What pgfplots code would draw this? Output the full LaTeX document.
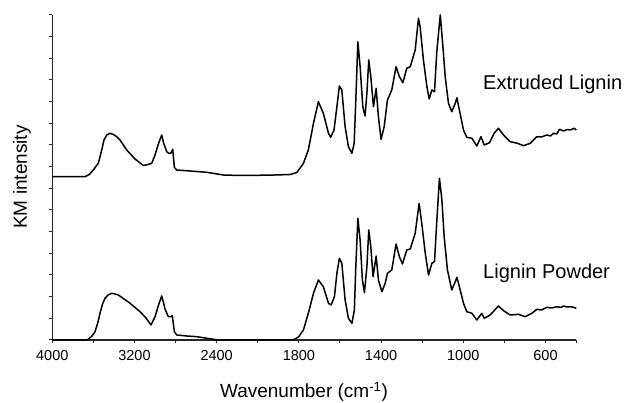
\documentclass[border=0pt]{standalone}
\usepackage{fontspec}
\setmainfont{Liberation Sans}
\usepackage{pgfplots}
\pgfplotsset{compat=1.18}
\begin{document}
\begin{tikzpicture}
\begin{axis}[
  scale only axis, width=524pt, height=325pt,
  at={(0,0)}, anchor=south west,
  xmin=0, xmax=12.75, ymin=0, ymax=325,
  axis lines*=left,
  axis line style={black!85, line width=1.1pt},
  x filter/.expression={x>=2000 ? (4000-x)/400 : 5+(2000-x)/200},
  xtick={0,2,4,6,8,10,12},
  xticklabels={4000,3200,2400,1800,1400,1000,600},
  minor xtick={1,3,5,7,9,11,12.75},
  ytick={0,21.6667,43.3333,65,86.6667,108.3333,130,151.6667,173.3333,195,216.6667,238.3333,260,281.6667,303.3333,325},
  yticklabels={,,,,,,,,,,,,,,,,},
  tick align=outside,
  major tick length=3pt, minor tick length=3pt,
  every tick/.style={black!85, line width=1pt},
  xticklabel style={font=\fontsize{14.5}{17}\selectfont, yshift=-3.5pt},
  /pgf/number format/assume math mode=true,
  clip=false,
]
\addplot[black, line width=1.5pt, line join=round] coordinates {
(4000,163.3) (3682,163.3) (3640,165.5) (3601,170) (3552,176.7) (3519,190) (3497,200) (3470,205) (3438,206.7) (3405,205.5) (3373,203.3) (3341,200) (3276,190) (3195,181) (3114,174.5) (3068,175.5) (3032,176.7) (3000,185) (2971,195) (2935,205) (2917,197) (2886,188.3) (2864,186.5) (2844,187) (2828,190.7) (2812,172.5) (2789,170) (2659,169) (2497,167.7) (2335,165) (2172,164.5) (2000,164.7) (1916,165) (1843,165.5) (1810,167.5) (1794,172) (1778,176.7) (1754,190) (1729,216.7) (1705,238.3) (1681,226.7) (1656,206.7) (1645,202.7) (1629,210) (1615,233.3) (1603,254) (1591,250) (1575,213.3) (1559,193.3) (1542,186.7) (1531,196.7) (1523,240) (1513,298.3) (1502,273.3) (1489,233.3) (1478,224) (1469,246.7) (1460,280) (1450,263.3) (1437,233.3) (1424,251.7) (1413,223.3) (1400,200.7) (1385,213.3) (1369,240) (1348,250) (1327,273.3) (1311,263.3) (1294,257.3) (1275,271.7) (1258,273.3) (1234,290) (1218,321.7) (1210,313.3) (1194,280) (1177,253.3) (1166,241) (1153,250) (1140,248.3) (1129,288) (1112,325) (1099,293.3) (1088,263.3) (1072,236.7) (1056,228.3) (1039,236.7) (1031,242.3) (1019,230) (999,210) (983,202.7) (958,201.7) (934,194) (914,203.3) (898,195) (872,197.3) (850,206.7) (829,211.7) (804,205) (772,198.3) (736,196.7) (707,194.3) (674,196.7) (642,203.3) (620,203) (593,205) (575,204) (561,206.7) (545,206) (532,210.7) (512,209) (495,210.5) (480,210) (460,211.7) (450,210)
};
\addplot[black, line width=1.5pt, line join=round] coordinates {
(4000,0) (3660,0) (3613,4) (3584,8.3) (3555,18) (3536,26.7) (3511,36) (3487,41.7) (3458,45) (3422,46.7) (3390,46) (3357,45) (3302,41) (3243,36.7) (3146,28.3) (3088,22) (3039,15) (3000,23.3) (2966,35) (2935,44) (2919,38) (2903,31) (2871,23.3) (2844,23.3) (2832,24.5) (2812,8.3) (2789,5) (2691,4) (2594,3.3) (2513,2) (2432,0.7) (2387,0) (1843,0) (1823,0.5) (1802,3) (1778,10) (1754,26.7) (1729,46.7) (1705,60) (1681,53.3) (1656,36.7) (1643,35) (1627,43.3) (1615,66.7) (1603,81.7) (1591,76.7) (1575,40) (1559,21.7) (1542,16.7) (1530,30) (1523,73.3) (1513,121.7) (1502,100) (1491,60) (1481,47.3) (1469,73.3) (1460,110) (1450,93.3) (1439,63.3) (1424,84) (1413,60) (1396,48.3) (1380,56.7) (1369,66.7) (1348,70) (1327,96) (1311,83.3) (1296,76) (1275,90) (1258,91) (1234,106.7) (1215,136.7) (1202,116.7) (1185,86.7) (1169,65) (1153,76.7) (1140,78.5) (1129,118.3) (1116,161.7) (1104,140) (1093,103.3) (1077,70) (1056,50) (1039,58.3) (1031,62.7) (1019,53.3) (999,36.7) (983,28.3) (958,26.7) (934,20) (910,26.7) (898,21.7) (869,25) (829,34) (804,29.3) (772,25) (731,25.7) (699,23.3) (666,26.7) (642,30.7) (620,30) (593,32.7) (570,32) (544,33.3) (525,32.5) (512,34) (495,33) (480,33.3) (465,32.8) (450,31.7)
};
\end{axis}
\node[rotate=90, anchor=base, inner sep=0pt, font=\fontsize{19}{22}\selectfont] at (-25.3pt,163pt) {KM intensity};
\node[anchor=base, inner sep=0pt, font=\fontsize{19}{22}\selectfont] at (251.7pt,-58pt) {Wavenumber (cm\textsuperscript{-1})};
\node[anchor=base west, inner sep=0pt, font=\fontsize{20}{24}\selectfont] at (430.7pt,250pt) {Extruded Lignin};
\node[anchor=base west, inner sep=0pt, font=\fontsize{20}{24}\selectfont] at (430.7pt,61.7pt) {Lignin Powder};
\pgfresetboundingbox
\useasboundingbox (-52.3pt,-63pt) rectangle (572.7pt,340pt);
\end{tikzpicture}
\end{document}
